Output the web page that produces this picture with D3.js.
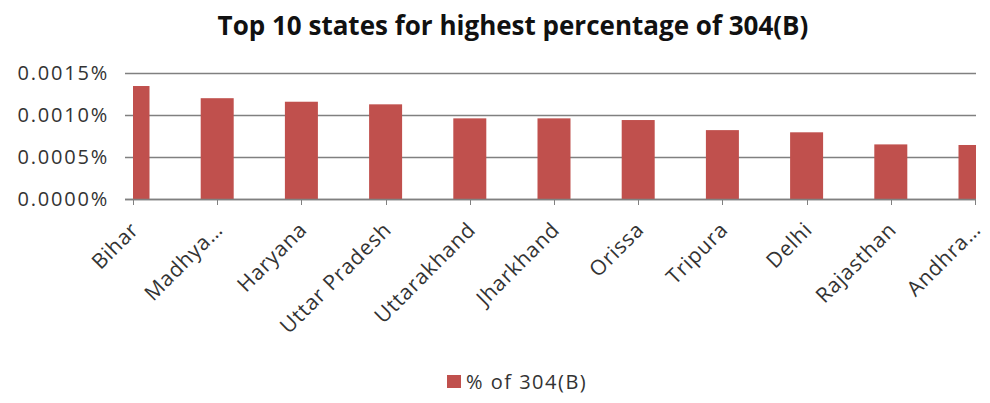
<!DOCTYPE html>
<html>
<head>
<meta charset="utf-8">
<script src="https://cdn.jsdelivr.net/npm/d3@7"></script>
<style>
  body { margin: 0; background: #fff; }
  svg { display: block; }
</style>
</head>
<body>
<div id="chart"></div>
<script>
var width = 990;
var height = 403;

// values (percent)
var states = ["Bihar", "Madhya\u2026", "Haryana", "Uttar Pradesh", "Uttarakhand",
    "Jharkhand", "Orissa", "Tripura", "Delhi", "Rajasthan", "Andhra\u2026"];
var pct304B = [0.001345, 0.00120, 0.001158, 0.001127, 0.00096,
    0.00096, 0.00094, 0.00082, 0.000794, 0.00065, 0.000643];
var yTicks = [0, 0.0005, 0.0010, 0.0015];
var seriesName = "% of 304(B)";
var title = "Top 10 states for highest percentage of 304(B)";

var barColor = "#c0504d";
var gridColor = "#808080";
var textColor = "#333";
var font = "'Open Sans', Lato, sans-serif";

var plot = { left: 133, right: 976, top: 73, bottom: 199 };

var svg = d3.select("#chart").append("svg")
    .attr("width", width)
    .attr("height", height)
    .style("font-family", font);

// category centers sit on the plot edges (first and last bars are cut in half)
var x = d3.scalePoint()
    .domain(states)
    .range([plot.left, plot.right - 1]);

var y = d3.scaleLinear()
    .domain([0, 0.0015])
    .range([plot.bottom, plot.top]);

var barW = 33;

svg.append("text")
    .attr("x", 513)
    .attr("y", 35)
    .attr("text-anchor", "middle")
    .attr("font-size", 26)
    .attr("font-weight", "bold")
    .attr("fill", "#111")
    .text(title);

// gridlines + y labels
var gy = svg.append("g");
gy.selectAll("line")
    .data(yTicks)
    .enter().append("line")
        .attr("x1", 125)
        .attr("x2", plot.right)
        .attr("y1", d => Math.round(y(d)) + 0.5)
        .attr("y2", d => Math.round(y(d)) + 0.5)
        .attr("stroke", gridColor)
        .attr("stroke-width", 1.3);
gy.selectAll("text")
    .data(yTicks)
    .enter().append("text")
        .attr("x", 109)
        .attr("y", d => y(d))
        .attr("dy", "0.36em")
        .attr("text-anchor", "end")
        .attr("font-size", 20)
        .attr("letter-spacing", 1.8)
        .attr("fill", textColor)
        .text(d => d.toFixed(4) + "%");

// bars, clipped to the plot area
svg.append("clipPath")
    .attr("id", "plot-clip")
  .append("rect")
    .attr("x", plot.left)
    .attr("y", 0)
    .attr("width", plot.right - plot.left)
    .attr("height", height);

svg.append("g")
    .attr("clip-path", "url(#plot-clip)")
  .selectAll("rect")
    .data(states)
    .enter().append("rect")
        .attr("x", d => x(d) - barW / 2)
        .attr("y", (d, i) => y(pct304B[i]))
        .attr("width", barW)
        .attr("height", (d, i) => y(0) - y(pct304B[i]))
        .attr("fill", barColor);

// baseline redrawn over bars
svg.append("line")
    .attr("x1", 125)
    .attr("x2", plot.right)
    .attr("y1", Math.round(y(0)) + 0.5)
    .attr("y2", Math.round(y(0)) + 0.5)
    .attr("stroke", gridColor)
    .attr("stroke-width", 1.3);

// category ticks and rotated labels
var gx = svg.append("g");
gx.selectAll("line")
    .data(states)
    .enter().append("line")
        .attr("x1", d => Math.round(x(d)) + 0.5)
        .attr("x2", d => Math.round(x(d)) + 0.5)
        .attr("y1", plot.bottom)
        .attr("y2", plot.bottom + 6)
        .attr("stroke", gridColor);
gx.selectAll("text")
    .data(states)
    .enter().append("text")
        .attr("transform", d => "translate(" + (x(d) + 7) + "," + (plot.bottom + 32) + ") rotate(-45)")
        .attr("text-anchor", "end")
        .attr("font-size", 21)
        .attr("letter-spacing", 0.8)
        .attr("fill", textColor)
        .text(d => d);

// legend
var lg = svg.append("g").attr("transform", "translate(447,375)");
lg.append("rect")
    .attr("width", 14)
    .attr("height", 13)
    .attr("fill", barColor);
lg.append("text")
    .attr("x", 19)
    .attr("y", 6.5)
    .attr("dy", "0.36em")
    .attr("font-size", 20)
    .attr("letter-spacing", 1.5)
    .attr("fill", textColor)
    .text(seriesName);
</script>
</body>
</html>
